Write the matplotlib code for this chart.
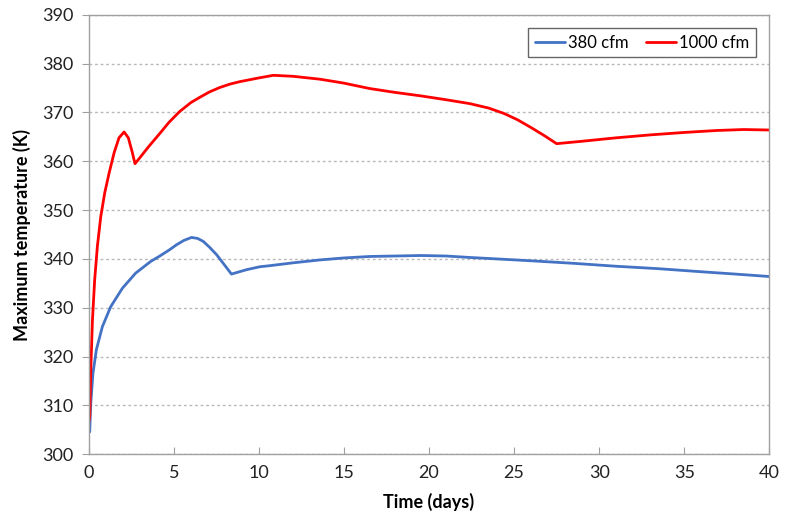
import matplotlib
matplotlib.use("Agg")
import matplotlib.pyplot as plt

plt.rcParams['font.family'] = ['Lato', 'DejaVu Sans']

# 1000 cfm (red)
x_1000 = [0, 0.06, 0.12, 0.22, 0.35, 0.51, 0.71, 0.94, 1.2, 1.49, 1.78, 2.08, 2.33, 2.57,
          2.72, 3.0, 3.5, 4.18, 4.7, 5.35, 6.0, 6.53, 7.1, 7.7, 8.3, 8.88, 9.9, 10.85, 12,
          13.6, 15, 16.5, 18, 19.5, 21, 22.4, 23.5, 24.4, 25.2, 26, 26.8, 27.5, 29, 31, 33,
          35, 36.9, 38.5, 40]
t_1000 = [306.5, 307.7, 317.2, 327.5, 335.7, 342.6, 348.7, 353.5, 357.6, 361.7, 364.8, 366,
          364.8, 361.7, 359.5, 360.7, 362.9, 365.7, 367.9, 370.2, 372.0, 373.1, 374.2, 375.1,
          375.8, 376.3, 377.0, 377.6, 377.4, 376.8, 376, 374.9, 374.1, 373.4, 372.6, 371.8,
          370.9, 369.8, 368.5, 366.9, 365.2, 363.6, 364.1, 364.8, 365.4, 365.9, 366.3,
          366.5, 366.4]

# 380 cfm (blue)
x_380 = [0, 0.06, 0.12, 0.25, 0.45, 0.8, 1.29, 1.98, 2.76, 3.65, 4.18, 4.76, 5.16, 5.6,
         6.04, 6.4, 6.73, 7.1, 7.51, 7.95, 8.39, 9.28, 10.06, 10.6, 12, 13.6, 15, 16.5, 18,
         19.5, 21, 22.4, 24, 26.1, 28.5, 31, 33.5, 35.9, 38, 40]
t_380 = [304.5, 304.6, 310.4, 316.6, 321.4, 326.1, 330.2, 334, 337.1, 339.5, 340.6, 341.9,
         342.9, 343.8, 344.4, 344.2, 343.6, 342.4, 340.9, 338.9, 336.9, 337.8, 338.4, 338.6,
         339.2, 339.8, 340.2, 340.5, 340.6, 340.7, 340.6, 340.3, 340, 339.6, 339.1, 338.5,
         338, 337.4, 336.9, 336.4]

x_ticks = [0, 5, 10, 15, 20, 25, 30, 35, 40]
y_ticks = [300, 310, 320, 330, 340, 350, 360, 370, 380, 390]

fig = plt.figure(figsize=(7.85, 5.27), dpi=100)
ax = fig.add_axes([0.113, 0.138, 0.867, 0.834])

ax.plot(x_380, t_380, color='#4472C4', lw=2.0, label='380 cfm',
        solid_joinstyle='round', solid_capstyle='round')
ax.plot(x_1000, t_1000, color='#FF0000', lw=2.0, label='1000 cfm',
        solid_joinstyle='round', solid_capstyle='round')

ax.set_xlim(0, 40)
ax.set_ylim(300, 390)
ax.set_xticks(x_ticks)
ax.set_yticks(y_ticks)
ax.tick_params(axis='x', direction='in', length=5, color='#a0a0a0', labelsize=13, pad=8,
               labelcolor='#222222')
ax.tick_params(axis='y', direction='out', length=5, color='#a0a0a0', labelsize=13, pad=6,
               labelcolor='#222222')

ax.yaxis.grid(True, color='#b8b8b8', linestyle=(0, (2, 2)), linewidth=1.0)
ax.set_axisbelow(True)
for s in ax.spines.values():
    s.set_color('#a0a0a0')
    s.set_linewidth(1.0)

ax.set_xlabel('Time (days)', fontsize=13, fontweight='bold', labelpad=8)
ax.set_ylabel('Maximum temperature (K)', fontsize=13, fontweight='bold', labelpad=8)

leg = ax.legend(loc='upper right', ncol=2, fontsize=12, frameon=True, fancybox=False,
                handlelength=1.8, handletextpad=0.2, columnspacing=1.0,
                borderaxespad=0.8, borderpad=0.4)
leg.get_frame().set_edgecolor('#404040')
leg.get_frame().set_linewidth(1.0)

fig.savefig('out.png', dpi=100)
